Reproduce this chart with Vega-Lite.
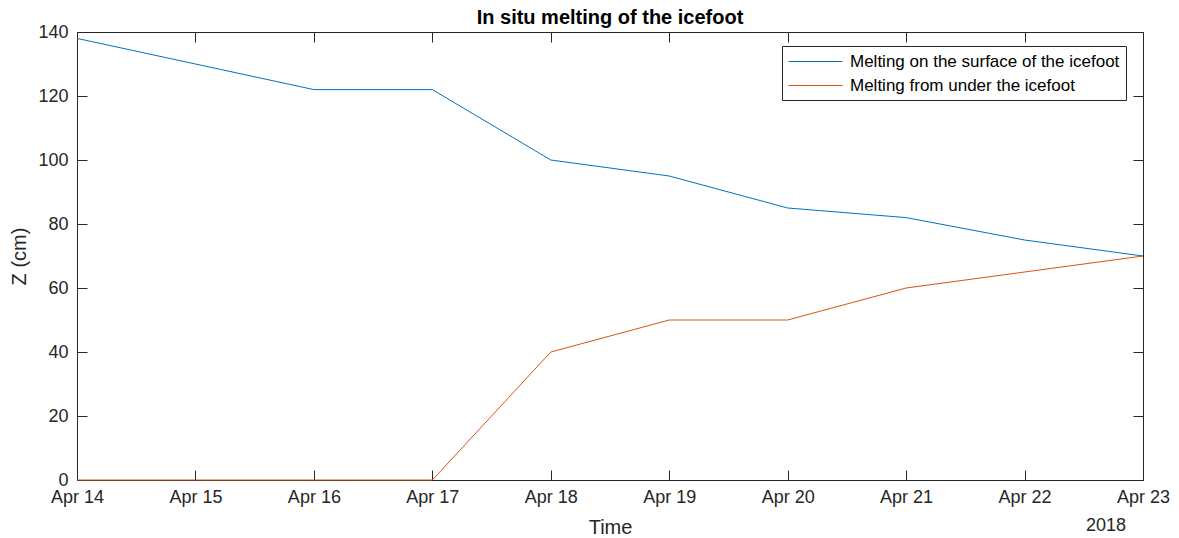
{
  "$schema": "https://vega.github.io/schema/vega-lite/v6.json",
  "width": 1066,
  "height": 448,
  "autosize": {"type": "none"},
  "padding": {"left": 77, "top": 32, "right": 36, "bottom": 58},
  "background": "white",
  "config": {
    "view": {"stroke": null},
    "font": "Liberation Sans",
    "axis": {
      "grid": false,
      "domainColor": "#262626",
      "tickColor": "#262626",
      "labelColor": "#262626",
      "titleColor": "#262626",
      "labelFont": "Liberation Sans",
      "titleFont": "Liberation Sans",
      "labelFontSize": 18,
      "titleFontSize": 20,
      "titleFontWeight": "normal",
      "domainWidth": 1,
      "tickWidth": 1
    }
  },
  "title": {
    "text": "In situ melting of the icefoot",
    "fontSize": 20,
    "fontWeight": "bold",
    "font": "Liberation Sans",
    "color": "#000000",
    "anchor": "middle",
    "offset": -5
  },
  "datasets": {
    "melt": [
      {"date": "2018-04-14", "z": 138, "series": "Melting on the surface of the icefoot"},
      {"date": "2018-04-15", "z": 130, "series": "Melting on the surface of the icefoot"},
      {"date": "2018-04-16", "z": 122, "series": "Melting on the surface of the icefoot"},
      {"date": "2018-04-17", "z": 122, "series": "Melting on the surface of the icefoot"},
      {"date": "2018-04-18", "z": 100, "series": "Melting on the surface of the icefoot"},
      {"date": "2018-04-19", "z": 95, "series": "Melting on the surface of the icefoot"},
      {"date": "2018-04-20", "z": 85, "series": "Melting on the surface of the icefoot"},
      {"date": "2018-04-21", "z": 82, "series": "Melting on the surface of the icefoot"},
      {"date": "2018-04-22", "z": 75, "series": "Melting on the surface of the icefoot"},
      {"date": "2018-04-23", "z": 70, "series": "Melting on the surface of the icefoot"},
      {"date": "2018-04-14", "z": 0, "series": "Melting from under the icefoot"},
      {"date": "2018-04-15", "z": 0, "series": "Melting from under the icefoot"},
      {"date": "2018-04-16", "z": 0, "series": "Melting from under the icefoot"},
      {"date": "2018-04-17", "z": 0, "series": "Melting from under the icefoot"},
      {"date": "2018-04-18", "z": 40, "series": "Melting from under the icefoot"},
      {"date": "2018-04-19", "z": 50, "series": "Melting from under the icefoot"},
      {"date": "2018-04-20", "z": 50, "series": "Melting from under the icefoot"},
      {"date": "2018-04-21", "z": 60, "series": "Melting from under the icefoot"},
      {"date": "2018-04-22", "z": 65, "series": "Melting from under the icefoot"},
      {"date": "2018-04-23", "z": 70, "series": "Melting from under the icefoot"}
    ],
    "year": [{"date": "2018-04-23", "z": 0, "label": "2018"}]
  },
  "layer": [
    {
      "data": {"name": "melt"},
      "mark": {"type": "line", "strokeWidth": 1},
      "encoding": {
        "x": {
          "field": "date",
          "type": "temporal",
          "scale": {"type": "utc", "nice": false},
          "axis": {
            "orient": "bottom",
            "title": "Time",
            "labelExpr": "utcFormat(datum.value, '%b %d')",
            "tickCount": {"interval": "day", "step": 1},
            "tickSize": -10,
            "labelPadding": 18,
            "titlePadding": 11,
            "labelFlush": false,
            "labelOverlap": false
          }
        },
        "y": {
          "field": "z",
          "type": "quantitative",
          "scale": {"domain": [0, 140], "nice": false, "zero": true},
          "axis": {
            "orient": "left",
            "title": "Z (cm)",
            "values": [0, 20, 40, 60, 80, 100, 120, 140],
            "tickSize": -10,
            "labelPadding": 19,
            "titlePadding": 8
          }
        },
        "color": {
          "field": "series",
          "type": "nominal",
          "sort": ["Melting on the surface of the icefoot", "Melting from under the icefoot"],
          "scale": {
            "domain": ["Melting on the surface of the icefoot", "Melting from under the icefoot"],
            "range": ["#0072BD", "#D95319"]
          },
          "legend": {
            "title": null,
            "orient": "none",
            "legendX": 705,
            "legendY": 14,
            "symbolType": "M-1,0H5",
            "symbolSize": 324,
            "symbolStrokeWidth": 1,
            "labelFontSize": 17,
            "labelFont": "Liberation Sans",
            "labelColor": "#000000",
            "labelLimit": 500,
            "labelOffset": 43,
            "rowPadding": 6,
            "padding": 6,
            "strokeColor": "#262626",
            "fillColor": "white",
            "encode": {
              "symbols": {
                "update": {
                  "stroke": {"scale": "color", "field": "value"},
                  "fill": {"value": "transparent"}
                }
              }
            }
          }
        }
      }
    },
    {
      "data": {"name": "melt"},
      "mark": {"type": "line", "opacity": 0},
      "encoding": {
        "x": {
          "field": "date",
          "type": "temporal",
          "axis": {
            "orient": "top",
            "title": null,
            "labels": false,
            "tickCount": {"interval": "day", "step": 1},
            "tickSize": -10
          }
        },
        "y": {
          "field": "z",
          "type": "quantitative",
          "axis": {
            "orient": "right",
            "title": null,
            "labels": false,
            "values": [0, 20, 40, 60, 80, 100, 120, 140],
            "tickSize": -10
          }
        },
        "detail": {"field": "series"}
      }
    },
    {
      "data": {"name": "year"},
      "mark": {"type": "text", "fontSize": 18, "font": "Liberation Sans", "color": "#262626", "dx": -37, "dy": 46, "baseline": "middle", "align": "center"},
      "encoding": {
        "x": {"field": "date", "type": "temporal", "axis": null},
        "y": {"field": "z", "type": "quantitative", "axis": null},
        "text": {"field": "label"}
      }
    }
  ],
  "resolve": {"axis": {"x": "independent", "y": "independent"}}
}
